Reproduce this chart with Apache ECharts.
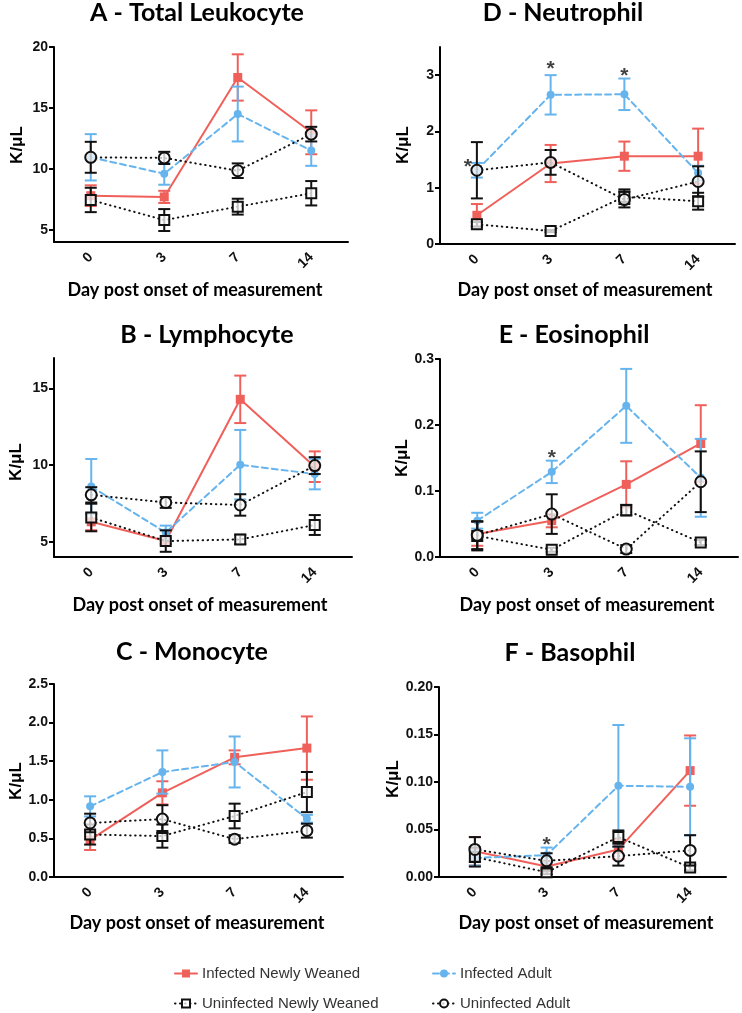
<!DOCTYPE html>
<html>
<head>
<meta charset="utf-8">
<script src="https://cdn.jsdelivr.net/npm/echarts@6/dist/echarts.min.js"></script>
<style>
html,body{margin:0;padding:0;background:#fff;}
#chart{width:742px;height:1013px;}
</style>
</head>
<body>
<div id="chart"></div>
<script>
// ---------- DATA ----------
const days = ['0', '3', '7', '14'];
const seriesNames = ['Infected Newly Weaned', 'Infected Adult', 'Uninfected Newly Weaned', 'Uninfected Adult'];

// A - Total Leukocyte
const A_inw = [7.8, 7.7, 17.5, 13.0];      const A_inw_err = [0.85, 0.5, 1.9, 1.8];
const A_ia  = [10.95, 9.6, 14.5, 11.5];    const A_ia_err  = [1.9, 0.9, 2.25, 1.25];
const A_unw = [7.45, 5.8, 6.9, 8.0];       const A_unw_err = [1.0, 0.9, 0.65, 1.0];
const A_ua  = [10.95, 10.9, 9.85, 12.85];  const A_ua_err  = [1.27, 0.5, 0.6, 0.6];
const A_ticks = [5, 10, 15, 20];

// B - Lymphocyte
const B_inw = [6.3, 5.05, 14.3, 9.9];      const B_inw_err = [0.55, 0.2, 1.55, 1.0];
const B_ia  = [8.6, 5.6, 10.03, 9.42];     const B_ia_err  = [1.8, 0.45, 2.27, 1.0];
const B_unw = [6.58, 5.04, 5.15, 6.09];    const B_unw_err = [0.9, 0.7, 0.3, 0.65];
const B_ua  = [8.06, 7.56, 7.4, 9.97];     const B_ua_err  = [0.5, 0.35, 0.7, 0.55];
const B_ticks = [5, 10, 15];

// C - Monocyte
const C_inw = [0.48, 1.09, 1.55, 1.67];    const C_inw_err = [0.13, 0.15, 0.09, 0.41];
const C_ia  = [0.915, 1.36, 1.49, 0.755];  const C_ia_err  = [0.13, 0.28, 0.33, 0.05];
const C_unw = [0.55, 0.53, 0.79, 1.1];     const C_unw_err = [0.13, 0.15, 0.16, 0.26];
const C_ua  = [0.7, 0.75, 0.49, 0.6];      const C_ua_err  = [0.12, 0.18, 0.05, 0.09];
const C_ticks = [0, 0.5, 1.0, 1.5, 2.0, 2.5];

// D - Neutrophil
const D_inw = [0.51, 1.43, 1.56, 1.56];    const D_inw_err = [0.2, 0.33, 0.26, 0.49];
const D_ia  = [1.31, 2.65, 2.66, 1.26];    const D_ia_err  = [0.13, 0.35, 0.28, 0.13];
const D_unw = [0.35, 0.23, 0.84, 0.76];    const D_unw_err = [0.04, 0.02, 0.13, 0.15];
const D_ua  = [1.31, 1.45, 0.79, 1.11];    const D_ua_err  = [0.5, 0.22, 0.14, 0.27];
const D_ticks = [0, 1, 2, 3];
const D_star = [[0, 1.45], [1, 3.19], [2, 3.07]];

// E - Eosinophil
const E_inw = [0.035, 0.055, 0.11, 0.172]; const E_inw_err = [0.018, 0.01, 0.035, 0.058];
const E_ia  = [0.055, 0.129, 0.229, 0.12]; const E_ia_err  = [0.012, 0.017, 0.056, 0.059];
const E_unw = [0.032, 0.011, 0.071, 0.022];const E_unw_err = [0.022, 0.003, 0.008, 0.004];
const E_ua  = [0.033, 0.065, 0.012, 0.114];const E_ua_err  = [0.021, 0.03, 0.006, 0.046];
const E_ticks = [0, 0.1, 0.2, 0.3];
const E_star = [[1, 0.157]];

// F - Basophil
const F_inw = [0.027, 0.011, 0.029, 0.112];const F_inw_err = [0.015, 0.005, 0.01, 0.037];
const F_ia  = [0.02, 0.023, 0.096, 0.095]; const F_ia_err  = [0.008, 0.008, 0.064, 0.051];
const F_unw = [0.021, 0.005, 0.042, 0.01]; const F_unw_err = [0.01, 0.002, 0.007, 0.003];
const F_ua  = [0.029, 0.017, 0.022, 0.028];const F_ua_err  = [0.013, 0.008, 0.01, 0.016];
const F_ticks = [0, 0.05, 0.10, 0.15, 0.20];
const F_star = [[1, 0.039]];

const titles = ['A - Total Leukocyte', 'D - Neutrophil', 'B - Lymphocyte', 'E - Eosinophil', 'C - Monocyte', 'F - Basophil'];
const xName = 'Day post onset of measurement';
const yName = 'K/\u03bcL';

// ---------- LAYOUT / STYLE ----------
const RED = '#F0605B', BLUE = '#66B4EE', BLK = '#111';
const panels = [
  {grid:[54,47,294,195],  min:4, max:20,  ticks:A_ticks, dec:0, d:[A_inw,A_ia,A_unw,A_ua], e:[A_inw_err,A_ia_err,A_unw_err,A_ua_err], title:[197,13], xn:[195,290], yn:[17,145], star:null},
  {grid:[440,47,295,197], min:0, max:3.5, ticks:D_ticks, dec:0, d:[D_inw,D_ia,D_unw,D_ua], e:[D_inw_err,D_ia_err,D_unw_err,D_ua_err], title:[563,13], xn:[585,290], yn:[403,145], star:D_star, starOff:[[-9,0],[0,0],[0,0]]},
  {grid:[54,358,298,199], min:4, max:17,  ticks:B_ticks, dec:0, d:[B_inw,B_ia,B_unw,B_ua], e:[B_inw_err,B_ia_err,B_unw_err,B_ua_err], title:[207,335], xn:[200,605], yn:[16,462], star:null},
  {grid:[440,359,298,198],min:0, max:0.3, ticks:E_ticks, dec:1, d:[E_inw,E_ia,E_unw,E_ua], e:[E_inw_err,E_ia_err,E_unw_err,E_ua_err], title:[574,335], xn:[587,605], yn:[402,458], star:E_star, starOff:[[0,0]]},
  {grid:[54,684,289,193], min:0, max:2.5, ticks:C_ticks, dec:1, d:[C_inw,C_ia,C_unw,C_ua], e:[C_inw_err,C_ia_err,C_unw_err,C_ua_err], title:[192,652], xn:[197,923], yn:[16,781], star:null},
  {grid:[439,687,287,190],min:0, max:0.2, ticks:F_ticks, dec:2, d:[F_inw,F_ia,F_unw,F_ua], e:[F_inw_err,F_ia_err,F_unw_err,F_ua_err], title:[570,653], xn:[586,923], yn:[393,779], star:F_star, starOff:[[0,0]]}
];

// drawing order: infected (colour) below, uninfected (black, translucent fill) on top
const OPEN = 'rgba(255,255,255,0.75)';
const looks = [
  {color:RED,  symbol:'rect',   size:9,  fill:RED,  border:RED, bw:0, line:'solid', lw:2, z:4},
  {color:BLUE, symbol:'circle', size:8,  fill:BLUE, border:BLUE, bw:0, line:[6,4], lw:2, z:6},
  {color:BLK,  symbol:'rect',   size:10, fill:OPEN, border:BLK, bw:2, line:[0.5,4.5], lw:2, z:8},
  {color:BLK,  symbol:'circle', size:11, fill:OPEN, border:BLK, bw:2, line:[0.5,4.5], lw:2, z:10}
];

const grids = [], xAxes = [], yAxes = [], series = [], graphics = [];
const labelFont = {fontFamily:'Liberation Sans', fontWeight:'bold', fontSize:14, color:'#111'};

function errRender(color) {
  return function (params, api) {
    const x = api.value(0), m = api.value(1), s = api.value(2);
    const top = api.coord([x, m + s]);
    const bot = api.coord([x, m - s]);
    const cw = 6;
    const st = {stroke: color, lineWidth: 2};
    return {type:'group', children:[
      {type:'line', shape:{x1:top[0], y1:top[1], x2:bot[0], y2:bot[1]}, style:st},
      {type:'line', shape:{x1:top[0]-cw, y1:top[1], x2:top[0]+cw, y2:top[1]}, style:st},
      {type:'line', shape:{x1:bot[0]-cw, y1:bot[1], x2:bot[0]+cw, y2:bot[1]}, style:st}
    ]};
  };
}

panels.forEach((p, i) => {
  grids.push({left:p.grid[0], top:p.grid[1], width:p.grid[2], height:p.grid[3], containLabel:false});
  xAxes.push({
    type:'category', gridIndex:i, data:days, boundaryGap:true,
    axisLine:{lineStyle:{color:'#000', width:2}},
    axisTick:{alignWithLabel:true, length:5, lineStyle:{color:'#000', width:2}},
    axisLabel:Object.assign({rotate:45, margin:13}, labelFont),
    splitLine:{show:false}
  });
  yAxes.push({
    type:'value', gridIndex:i, min:p.min, max:p.max,
    axisLine:{show:true, lineStyle:{color:'#000', width:2}},
    axisTick:{show:true, length:5, lineStyle:{color:'#000', width:2}, customValues:p.ticks},
    axisLabel:Object.assign({margin:6, customValues:p.ticks, formatter:(v)=>Number(v).toFixed(p.dec)}, labelFont),
    splitLine:{show:false}
  });
  for (let k = 0; k < 4; k++) {
    const lk = looks[k];
    series.push({
      type:'custom', xAxisIndex:i, yAxisIndex:i, z:lk.z,
      renderItem: errRender(lk.color),
      data: p.d[k].map((v, j) => [j, v, p.e[k][j]]),
      encode:{x:0, y:1}, silent:true, clip:false
    });
    series.push({
      type:'line', name:seriesNames[k], xAxisIndex:i, yAxisIndex:i, z:lk.z + 1,
      data: p.d[k], symbol:lk.symbol, symbolSize:lk.size, showSymbol:true,
      color: lk.color,
      lineStyle:{color:lk.color, width:lk.lw, type:lk.line, cap:'round'},
      itemStyle:{color:lk.fill, borderColor:lk.border, borderWidth:lk.bw},
      animation:false
    });
  }
  if (p.star) {
    series.push({
      type:'scatter', xAxisIndex:i, yAxisIndex:i, z:20, symbolSize:0,
      data: p.star.map((s, j) => ({value:s, label:{offset:[p.starOff[j][0], p.starOff[j][1] + 5]}})),
      label:{show:true, position:'inside', formatter:'*', fontSize:21, fontWeight:'bold', fontFamily:'Liberation Sans', color:'#111'},
      silent:true
    });
  }
  graphics.push({type:'text', x:p.title[0], y:p.title[1],
    style:{text:titles[i], align:'center', verticalAlign:'middle', font:'bold 25px Lato', fill:'#000'}});
  graphics.push({type:'text', x:p.xn[0], y:p.xn[1],
    style:{text:xName, align:'center', verticalAlign:'middle', font:'bold 18px Lato', fill:'#000'}});
  graphics.push({type:'text', x:p.yn[0], y:p.yn[1], rotation:Math.PI/2,
    style:{text:yName, align:'center', verticalAlign:'middle', font:'bold 17px "Liberation Sans"', fill:'#000'}});
});

const legendBase = {orient:'horizontal', itemWidth:22, itemHeight:10, itemGap:10,
  textStyle:{fontFamily:'Liberation Sans', fontSize:15, color:'#333'}};
const legends = [
  Object.assign({data:[seriesNames[0]], left:169, top:961}, legendBase),
  Object.assign({data:[seriesNames[1]], left:427, top:961}, legendBase),
  Object.assign({data:[seriesNames[2]], left:169, top:991}, legendBase),
  Object.assign({data:[seriesNames[3]], left:427, top:991}, legendBase)
];

const chart = echarts.init(document.getElementById('chart'), null, {renderer:'canvas'});
chart.setOption({
  animation:false,
  backgroundColor:'#fff',
  grid:grids, xAxis:xAxes, yAxis:yAxes, series:series,
  legend:legends, graphic:graphics
});
</script>
</body>
</html>
